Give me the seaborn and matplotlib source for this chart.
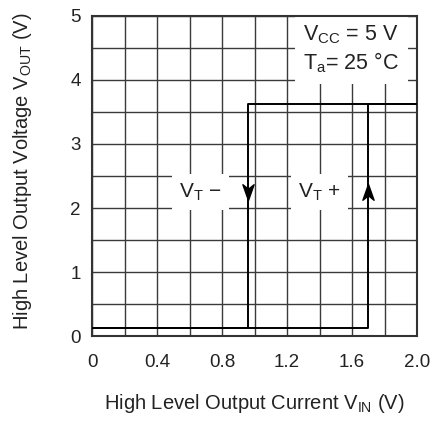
import numpy as np
import pandas as pd
import seaborn as sns
import matplotlib
matplotlib.use("Agg")
import matplotlib.pyplot as plt
from matplotlib.path import Path
from matplotlib.ticker import MultipleLocator

# ---- data ----
v_in = [0.0, 1.70, 1.70, 2.0, 0.96, 0.96, 0.0]
v_out = [0.12, 0.12, 3.63, 3.63, 3.63, 0.12, 0.12]
x_ticks = [0, 0.4, 0.8, 1.2, 1.6, 2.0]
x_tick_labels = ["0", "0.4", "0.8", "1.2", "1.6", "2.0"]
y_ticks = [0, 1, 2, 3, 4, 5]
y_tick_labels = ["0", "1", "2", "3", "4", "5"]
vt_minus = 0.96
vt_plus = 1.70

sns.set_theme(style="white")
plt.rcParams['font.family'] = ['Liberation Sans', 'DejaVu Sans']
plt.rcParams['mathtext.fontset'] = 'custom'
plt.rcParams['mathtext.rm'] = 'Liberation Sans'
plt.rcParams['mathtext.it'] = 'Liberation Sans:italic'

fig = plt.figure(figsize=(4.36, 4.23), dpi=100)
ax = fig.add_axes([92/436, 1-336/423, 325/436, 320/423])

df = pd.DataFrame({"x": v_in, "y": v_out})
sns.lineplot(data=df, x="x", y="y", sort=False, estimator=None, color="black",
             lw=1.4, ax=ax, zorder=3)

ax.set_xlim(0, 2.0)
ax.set_ylim(0, 5)
ax.xaxis.set_minor_locator(MultipleLocator(0.2))
ax.yaxis.set_minor_locator(MultipleLocator(0.5))
ax.set_xticks(x_ticks)
ax.set_xticklabels(x_tick_labels)
ax.set_yticks(y_ticks)
ax.set_yticklabels(y_tick_labels)
ax.grid(which="both", color="#3a3a3a", lw=1.0)
ax.tick_params(which="both", length=0, labelsize=13.5, colors="#222222")
ax.tick_params(axis="x", pad=13)
ax.tick_params(axis="y", pad=8)
for sp in ax.spines.values():
    sp.set_color("#333333")
    sp.set_linewidth(1.5)

ax.set_xlabel("High Level Output Current $\\mathregular{V_{IN}}$ (V)", fontsize=14.5, labelpad=15, color="#222222")
ax.set_ylabel("High Level Output Voltage $\\mathregular{V_{OUT}}$ (V)", fontsize=14.5, color="#222222")
ax.yaxis.set_label_coords(-0.18, 0.515)

# arrow heads
down = Path([(0, -1), (-0.62, 0.75), (0, 0.25), (0.62, 0.75), (0, -1)],
            [Path.MOVETO, Path.LINETO, Path.LINETO, Path.LINETO, Path.CLOSEPOLY])
up = Path([(0, 1), (-0.62, -0.75), (0, -0.25), (0.62, -0.75), (0, 1)],
          [Path.MOVETO, Path.LINETO, Path.LINETO, Path.LINETO, Path.CLOSEPOLY])
ax.plot([vt_minus], [2.27], marker=down, markersize=13, color="black", zorder=4, clip_on=False)
ax.plot([vt_plus], [2.24], marker=up, markersize=13, color="black", zorder=4, clip_on=False)

bb = dict(facecolor="white", edgecolor="none", boxstyle="square,pad=0.35")
ax.text(0.665, 2.25, "$\\mathregular{V_{T}}$ −", fontsize=15, ha="center", va="center",
        bbox=bb, zorder=2.5, color="#222222")
ax.text(1.40, 2.25, "$\\mathregular{V_{T}}$ +", fontsize=15, ha="center", va="center",
        bbox=bb, zorder=2.5, color="#222222")
ax.text(1.595, 4.48, "$\\mathregular{V_{CC}}$ = 5 V\n$\\mathregular{T_a}$= 25 °C", fontsize=15.5,
        ha="center", va="center", linespacing=1.25,
        bbox=dict(facecolor="white", edgecolor="none", boxstyle="square,pad=0.4"),
        zorder=2.5, color="#222222")

fig.savefig("out.png", dpi=100)
